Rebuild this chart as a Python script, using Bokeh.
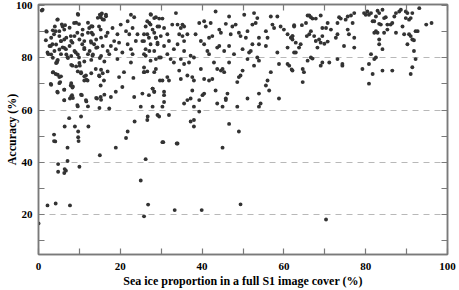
from bokeh.plotting import figure
from bokeh.models import LinearAxis, FixedTicker, Range1d
from bokeh.embed import file_html
from bokeh.resources import INLINE

# ---- data (sea ice proportion %, accuracy %) ----
ice_a = [1.0, 2.0, 1.8, 2.2, 2.4, 3.0, 3.4, 4.0, 4.6, 4.2, 3.8, 5.9, 6.5, 5.1, 5.5, 6.3, 5.9, 6.7, 4.6, 4.5,
         5.5, 3.6, 4.2, 5.1, 3.0, 5.3, 4.6, 6.3, 7.9, 8.3, 6.3, 7.7, 8.2, 9.5, 7.5, 6.4, 8.9, 3.8, 4.1, 9.7,
         9.7, 10.4, 12.2, 7.9, 8.3, 7.1, 9.1, 9.5, 8.7, 9.7, 9.9, 10.7, 10.7, 11.2, 9.9, 8.3, 10.1, 10.4, 11.6, 11.2,
         12.0, 10.6, 11.6, 12.4, 13.2, 13.0, 12.8, 13.6, 12.1, 13.2, 14.4, 15.2, 15.0, 15.5, 16.5, 15.2, 16.0, 14.8, 14.0, 14.8,
         15.2, 16.0, 14.3, 15.2, 17.3, 17.7, 18.9, 16.9, 18.1, 18.5, 17.7, 17.3, 18.9, 19.3, 20.1, 19.7, 20.5, 19.3, 19.7, 20.5,
         20.9, 21.8, 21.4, 22.2, 23.0, 21.8, 22.6, 23.0, 22.6, 23.8, 24.2, 22.6, 23.4, 23.2, 23.4, 23.5, 21.8, 21.4, 25.0, 26.7,
         29.1, 27.9, 28.3, 25.8, 25.8, 26.2, 27.1, 25.8, 26.6, 27.9, 27.1, 28.3, 27.5, 29.1, 28.7, 29.5, 29.7, 29.5]
acc_a = [98.4, 90.0, 86.7, 82.0, 81.4, 84.5, 85.2, 92.0, 94.6, 90.2, 89.0, 92.0, 92.5, 88.3, 86.4, 87.0, 84.0, 83.3, 78.9, 78.2,
         81.4, 74.5, 73.8, 72.6, 70.0, 70.7, 67.0, 67.8, 69.4, 68.6, 63.8, 64.4, 65.7, 61.9, 56.9, 53.7, 53.7, 50.6, 48.0, 51.8,
         49.6, 57.5, 53.7, 88.3, 85.8, 80.2, 82.0, 89.6, 93.3, 96.5, 92.9, 88.8, 85.2, 83.3, 80.1, 77.0, 77.0, 74.5, 73.2, 71.3,
         71.3, 65.7, 63.8, 91.4, 92.0, 89.6, 86.4, 85.2, 81.4, 80.8, 84.0, 90.8, 96.5, 97.0, 96.5, 95.5, 94.6, 92.0, 75.7, 73.2,
         69.4, 71.3, 64.4, 65.0, 60.6, 65.0, 67.0, 89.6, 91.4, 86.4, 84.5, 81.4, 83.3, 89.0, 92.7, 85.8, 82.0, 79.5, 72.6, 68.8,
         74.5, 94.0, 90.2, 89.0, 91.4, 85.2, 83.3, 81.4, 78.2, 86.4, 89.0, 96.5, 95.5, 72.3, 65.0, 55.6, 51.8, 49.3, 61.3, 57.5,
         58.1, 68.2, 67.0, 74.5, 76.3, 80.8, 82.6, 86.4, 89.0, 90.8, 93.3, 95.2, 96.5, 85.2, 87.7, 80.1, 71.3, 92.0]

ice_b = [27.4, 28.7, 29.5, 30.3, 26.6, 27.4, 26.2, 29.1, 30.7, 28.3, 25.8, 27.0, 28.7, 29.9, 31.5, 25.4, 27.4, 29.1, 30.7, 31.9,
         26.2, 28.3, 25.8, 29.9, 31.5, 28.7, 27.4, 32.3, 33.6, 32.7, 34.0, 35.2, 34.8, 35.6, 34.4, 35.2, 36.4, 35.6, 34.0, 33.1,
         35.6, 37.2, 34.8, 38.0, 38.4, 39.3, 40.5, 39.7, 40.5, 40.9, 42.1, 41.7, 42.5, 43.3, 44.2, 44.6, 41.3, 41.7, 43.7, 44.2,
         45.4, 42.9, 45.8, 46.6, 47.0, 46.6, 47.4, 48.2, 47.8, 49.0, 49.4, 50.3, 51.1, 50.7, 49.9, 51.5, 51.9, 51.1, 52.3, 52.7,
         53.1, 52.3, 53.5, 53.9, 53.9, 53.5, 53.9, 52.7, 55.6, 56.0, 55.6, 56.8, 57.2, 57.6, 58.4, 58.4, 58.8, 59.2, 60.0, 60.9,
         60.9, 61.7, 62.1, 62.5, 62.5, 62.1, 62.9, 60.9, 61.3]
acc_b = [96.7, 95.5, 95.0, 95.0, 94.0, 92.7, 92.0, 92.0, 91.4, 89.6, 89.0, 87.7, 87.7, 88.3, 89.0, 86.4, 85.2, 85.8, 84.5, 86.4,
         83.3, 82.6, 81.4, 80.1, 81.4, 79.5, 78.9, 79.5, 97.1, 92.7, 92.7, 92.7, 91.4, 92.0, 89.0, 88.3, 89.0, 86.4, 85.2, 83.3,
         82.6, 80.8, 79.5, 80.1, 89.0, 93.3, 94.0, 86.4, 85.2, 92.0, 93.3, 87.7, 88.3, 97.7, 90.8, 89.6, 82.6, 81.4, 83.9, 84.5,
         82.6, 78.2, 93.0, 95.8, 89.0, 84.5, 92.0, 92.7, 81.4, 89.6, 88.3, 96.5, 90.2, 87.7, 83.3, 82.0, 82.6, 79.5, 85.2, 97.1,
         93.3, 92.7, 95.2, 87.7, 85.2, 80.1, 78.9, 77.0, 90.2, 87.7, 84.5, 95.8, 92.7, 91.4, 95.8, 82.0, 77.6, 92.0, 90.8, 89.0,
         83.9, 87.7, 88.3, 92.0, 82.0, 75.1, 85.8, 77.6, 77.0]

ice_c = [25.8, 26.6, 28.7, 28.3, 30.3, 31.5, 31.9, 33.1, 34.4, 34.8, 36.4, 37.6, 38.0, 36.8, 35.6, 39.7, 40.5, 41.7, 42.5, 43.3,
         43.7, 44.6, 45.0, 45.4, 46.6, 49.0, 49.4, 49.9, 48.6, 56.0, 56.8, 55.6, 56.4, 25.4, 27.9, 28.3, 27.0, 30.7, 30.7, 30.7,
         30.3, 27.9, 35.6, 36.4, 37.2, 37.6, 39.3, 40.1, 40.5, 38.0, 39.3, 43.7, 45.0, 46.2, 45.8, 45.8, 48.6, 51.1, 53.9, 54.3,
         53.9, 58.8, 26.6, 29.5, 31.9, 37.2, 38.0, 38.0, 46.6, 49.0, 30.3, 34.0]
acc_c = [74.5, 74.8, 75.7, 74.5, 71.3, 72.6, 71.3, 78.2, 75.1, 71.9, 73.2, 72.6, 71.3, 78.2, 77.6, 75.7, 71.9, 71.3, 71.9, 67.5,
         75.7, 75.1, 75.7, 74.5, 78.2, 72.6, 73.2, 75.1, 70.7, 71.3, 74.5, 69.4, 67.5, 66.3, 68.2, 67.0, 65.7, 67.0, 65.7, 63.1,
         61.3, 61.3, 62.5, 63.8, 64.4, 67.5, 63.8, 65.7, 66.3, 61.3, 59.4, 62.5, 61.3, 66.3, 64.4, 63.8, 61.3, 64.4, 61.3, 62.5,
         66.3, 64.4, 56.2, 57.5, 58.1, 55.6, 56.2, 53.7, 54.7, 51.8, 47.7, 47.2]

ice_d = [62.5, 62.1, 62.1, 61.9, 62.9, 63.7, 64.1, 64.4, 65.4, 65.8, 66.2, 66.6, 67.0, 67.8, 69.0, 66.2, 65.6, 66.6, 67.4, 67.8,
         68.6, 69.4, 68.2, 69.0, 69.9, 70.7, 70.3, 69.4, 70.7, 71.5, 72.7, 73.1, 73.1, 73.5, 73.9, 75.1, 75.6, 76.4, 77.2, 76.8,
         75.6, 75.9, 74.7, 77.2, 77.2, 66.6, 67.0, 65.8, 64.6, 64.9, 64.6, 69.4, 69.0, 71.1, 73.1, 74.3, 74.3, 79.2, 79.6, 80.4,
         80.8, 80.0, 81.3, 81.7, 82.1, 82.5, 82.9, 83.3, 84.1, 84.5, 84.9, 83.7, 83.3, 85.3, 86.1, 86.5, 87.0, 87.4, 88.2, 88.6,
         89.8, 90.2, 89.8, 90.6, 91.0, 91.4, 93.1, 89.0, 82.5, 82.9, 82.1, 83.3, 84.5, 85.3, 87.4, 89.4, 90.6, 91.0, 92.2, 92.7,
         91.4, 91.8, 90.2, 83.3, 84.1, 91.8, 92.2, 81.3, 82.5, 82.1, 80.8, 81.7, 80.8, 84.1, 86.5, 91.0, 91.4, 94.8, 96.1]
acc_d = [92.5, 88.3, 87.0, 75.5, 82.0, 83.9, 85.2, 92.5, 93.3, 96.2, 96.2, 95.5, 95.0, 95.0, 96.2, 89.0, 88.3, 90.2, 88.3, 86.4,
         87.0, 88.3, 83.9, 85.8, 85.4, 86.2, 91.4, 91.4, 93.3, 90.8, 87.7, 89.0, 93.3, 95.5, 95.0, 94.6, 95.8, 96.2, 97.1, 93.3,
         90.8, 89.0, 84.5, 87.7, 83.9, 80.1, 79.7, 78.9, 75.7, 74.5, 70.7, 78.2, 77.0, 78.2, 79.5, 77.6, 77.0, 75.7, 97.1, 97.7,
         96.5, 96.5, 97.1, 94.0, 94.0, 95.8, 98.0, 97.1, 98.4, 95.2, 95.5, 92.7, 93.0, 92.7, 92.7, 93.3, 95.8, 97.1, 97.7, 98.4,
         97.7, 97.1, 95.2, 94.6, 95.2, 97.1, 99.0, 92.0, 90.2, 89.6, 89.6, 87.0, 89.6, 90.8, 89.6, 89.0, 89.0, 88.3, 90.2, 90.2,
         87.0, 86.7, 85.2, 85.2, 83.3, 82.6, 79.5, 81.4, 80.1, 79.5, 77.6, 73.8, 70.1, 75.1, 75.1, 73.8, 76.4, 92.7, 93.3]

ice_e = [3.8, 9.8, 7.1, 18.9, 15.0, 4.8, 7.1, 4.8, 6.4, 6.7, 6.3, 10.0, 26.2, 25.0, 2.2, 4.2, 7.7, 0.0, 25.8, 26.8,
         30.5, 33.8, 45.0, 33.3, 39.9, 49.4, 70.3]
acc_e = [48.1, 48.1, 45.6, 45.6, 42.7, 39.3, 40.5, 36.4, 37.4, 36.8, 35.9, 38.3, 41.2, 33.0, 23.5, 24.2, 23.5, 16.6, 19.3, 23.8,
         47.7, 47.2, 45.6, 21.7, 21.7, 23.9, 18.1]

ice_f = [0.8, 4.7, 3.5, 5.7, 6.3, 1.9, 5.1, 7.6, 9.2, 9.6, 12.1, 12.9, 10.8, 12.1, 13.3, 14.5, 15.3, 16.5, 15.7, 3.1,
         4.3, 5.5, 6.8, 8.0, 8.8, 10.0, 11.2, 12.9, 14.1, 15.3, 16.5, 2.7, 3.9, 5.1, 6.3, 7.6, 8.8, 9.6, 8.0, 6.8,
         11.2, 12.5, 14.1, 15.7, 16.9, 15.3, 13.3, 3.1, 3.5,
         4.7, 4.3, 7.2, 8.0, 9.2, 10.0, 11.2, 12.9, 15.0, 16.1, 3.5, 4.7, 5.5, 3.1, 5.1, 8.0, 8.4, 9.6, 10.4, 11.2,
         11.7, 12.9, 15.3, 15.7, 14.9, 16.9, 4.7, 6.3, 8.0, 8.4, 10.4, 6.3, 11.7, 14.1, 15.3, 16.1, 9.6, 12.1, 14.9]
acc_f = [98.1, 94.7, 90.5, 92.8, 90.8, 90.2, 90.2, 91.5, 93.4, 96.8, 93.4, 92.1, 90.8, 89.6, 88.9, 95.3, 96.6, 95.9, 94.7, 87.7,
         85.1, 86.4, 87.7, 86.4, 88.3, 87.0, 86.4, 85.8, 87.0, 87.7, 88.3, 84.5, 82.6, 83.2, 83.8, 84.5, 82.6, 81.3, 80.7, 81.3,
         83.8, 82.6, 83.8, 84.5, 82.6, 80.7, 81.3, 81.3, 80.0,
         79.2, 78.0, 79.9, 77.3, 76.7, 78.0, 78.6, 79.2, 79.9, 78.6, 74.4, 73.5, 72.9, 69.7, 70.3, 70.3, 69.0, 74.8, 74.1, 72.9,
         71.6, 74.1, 75.4, 74.1, 72.9, 74.8, 66.7, 67.8, 65.2, 64.6, 65.9, 63.7, 63.3, 64.6, 63.9, 65.9, 61.4, 61.4, 60.8]

ice = ice_a + ice_b + ice_c + ice_d + ice_e + ice_f
acc = acc_a + acc_b + acc_c + acc_d + acc_e + acc_f

x_ticks = [0, 20, 40, 60, 80, 100]
x_minor = [10, 30, 50, 70, 90]
y_ticks = [20, 40, 60, 80, 100]
y_minor = [10, 30, 50, 70, 90]
grid_lines = [20, 40, 60, 80]

FONT = "Liberation Serif"
AX = "#7a7a7a"

p = figure(width=459, height=290, output_backend="svg", toolbar_location=None,
           x_range=Range1d(0, 100), y_range=Range1d(4.7, 100.4),
           min_border_left=38, min_border_right=12, min_border_top=4, min_border_bottom=36,
           background_fill_color="white", border_fill_color="white")
p.outline_line_color = AX
p.outline_line_width = 1.5

p.scatter(ice, acc, size=3.9, fill_color="#333333", line_color=None)

def style(ax):
    ax.axis_line_color = AX
    ax.axis_line_width = 1.5
    ax.major_tick_line_color = AX
    ax.minor_tick_line_color = AX
    ax.major_tick_line_width = 1.2
    ax.minor_tick_line_width = 1.2
    ax.major_tick_in = 6
    ax.major_tick_out = 0
    ax.minor_tick_in = 6
    ax.minor_tick_out = 0
    ax.major_label_text_font = FONT
    ax.major_label_text_font_style = "bold"
    ax.major_label_text_color = "black"
    ax.major_label_text_font_size = "11px"
    ax.axis_label_text_font = FONT
    ax.axis_label_text_font_style = "bold"
    ax.axis_label_text_color = "black"
    ax.axis_label_text_font_size = "12px"

p.xaxis.ticker = FixedTicker(ticks=x_ticks, minor_ticks=x_minor)
p.yaxis.ticker = FixedTicker(ticks=y_ticks, minor_ticks=y_minor)
p.xaxis.axis_label = "Sea ice proportion in a full S1 image cover (%)"
p.yaxis.axis_label = "Accuracy (%)"
style(p.xaxis[0])
style(p.yaxis[0])
p.xaxis.major_label_standoff = 8
p.xaxis.axis_label_standoff = 1
p.yaxis.major_label_standoff = 6
p.yaxis.axis_label_standoff = -6

top = LinearAxis(ticker=FixedTicker(ticks=x_ticks, minor_ticks=x_minor))
style(top)
top.major_label_overrides = {t: "" for t in x_ticks}
top.major_label_text_font_size = "1px"
top.major_label_standoff = 0
p.add_layout(top, "above")
right = LinearAxis(ticker=FixedTicker(ticks=y_ticks, minor_ticks=y_minor))
style(right)
right.major_label_overrides = {t: "" for t in y_ticks}
right.major_label_text_font_size = "1px"
right.major_label_standoff = 0
p.add_layout(right, "right")

p.xgrid.visible = False
p.ygrid.ticker = FixedTicker(ticks=grid_lines)
p.ygrid.grid_line_color = "#b8b8b8"
p.ygrid.grid_line_dash = "6 5"
p.ygrid.grid_line_width = 1

open("out.html", "w").write(file_html(p, INLINE))
